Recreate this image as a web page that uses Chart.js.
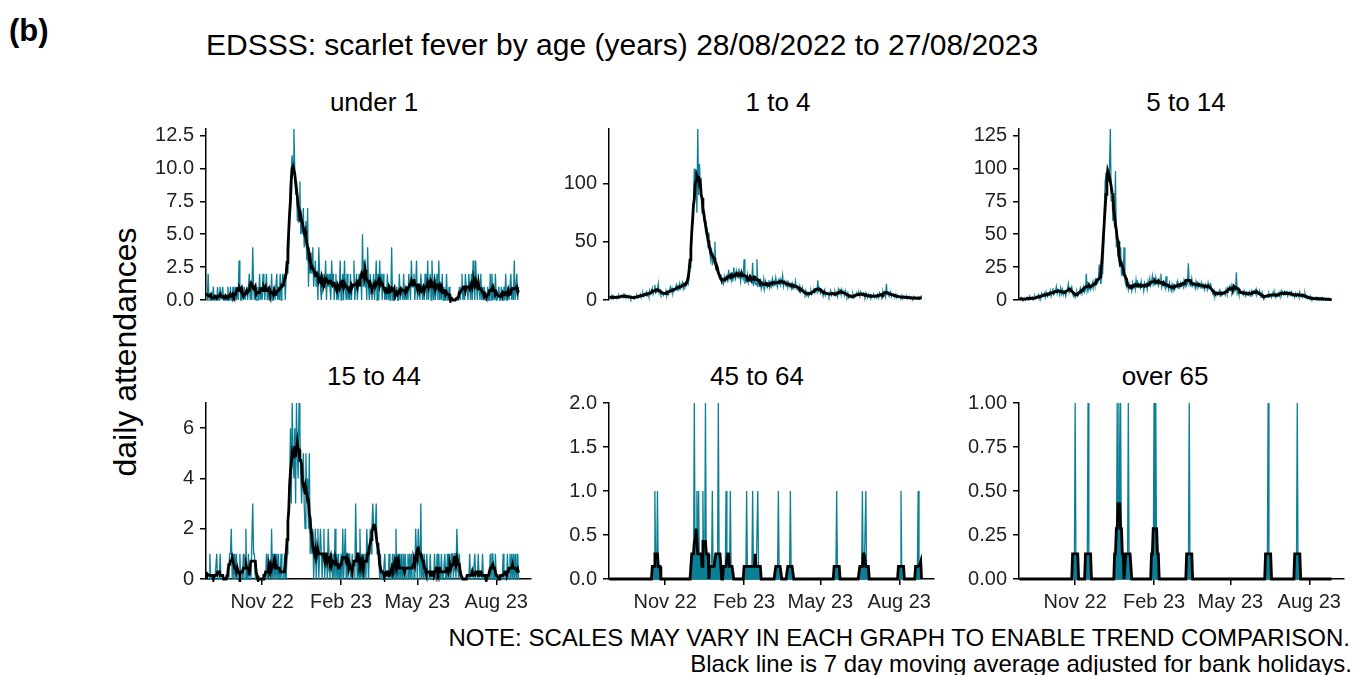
<!DOCTYPE html>
<html>
<head>
<meta charset="utf-8">
<script src="https://cdn.jsdelivr.net/npm/chart.js@4.4.1/dist/chart.umd.min.js"></script>
<style>
  html, body { margin: 0; padding: 0; background: #fff; }
  body { width: 1355px; height: 675px; position: relative; overflow: hidden;
         font-family: 'Liberation Sans', Arial, sans-serif; color: #000; }
  .t { position: absolute; white-space: nowrap; line-height: 1; }
  .c { transform: translate(-50%, -50%); }
  .l { transform: translate(0, -50%); }
  .r { transform: translate(0, -50%); text-align: right; }
</style>
</head>
<body>
<div class="t l" style="left:9px;top:30px;font-size:31px;font-weight:bold;">(b)</div>
<div class="t l" style="left:206px;top:45px;font-size:30px;">EDSSS: scarlet fever by age (years) 28/08/2022 to 27/08/2023</div>
<div class="t c" style="left:125px;top:352px;font-size:32px;transform:translate(-50%,-50%) rotate(-90deg);">daily attendances</div>
<div class="t r" style="right:5px;top:638px;font-size:24px;">NOTE: SCALES MAY VARY IN EACH GRAPH TO ENABLE TREND COMPARISON.</div>
<div class="t r" style="right:3px;top:664px;font-size:24px;">Black line is 7 day moving average adjusted for bank holidays.</div>

<script>
// ---- daily attendances, one value per day from the start date ----
const startDate = '2022-08-28';
const nDays = 365;

const under1 = [
  0,0,2,0,0,0,0, 0,1,0,0,0,0,1, 0,0,1,0,0,1,0, 0,0,0,0,1,0,0,
  1,0,0,1,0,0,1, 0,1,0,3,1,0,0, 1,0,1,0,0,1,0, 1,2,0,1,0,4,1,
  0,1,0,0,1,0,2, 0,1,0,2,1,0,1, 2,0,1,0,1,0,2, 0,0,1,0,0,2,0,
  1,0,2,0,1,2,
  1,2,0,2,3,2,4,7,9,10, 11,10,13,10,8,9,6,7,6,9, 5,6,5,7,4,5,6,3,7,1,
  4,2,3,2,4,1,2,3,1,2, 0,4,2,1,0,2,1,
  2,1,3,0,2,1,2, 1,0,3,1,2,0,1, 2,0,1,0,1,3,0, 1,2,0,3,1,0,2,
  0,1,0,2,0,1,1, 3,0,1,2,0,1,2, 1,2,0,5,1,3,1, 2,0,4,1,0,2,1,
  0,1,2,0,1,3,0, 2,0,3,1,2,0,2, 1,0,1,0,2,0,1, 0,0,4,0,0,1,0,
  0,1,0,0,2,0,1, 1,0,2,0,1,0,1, 0,2,1,0,3,1,1, 2,0,1,3,0,1,1,
  0,2,1,0,1,0,2, 1,0,3,0,1,2,0, 3,1,0,2,0,1,2, 0,3,0,1,0,2,0,
  1,0,0,2,0,0,1, 0,0,0,0,0,0,0, 0,0,0,0,1,0,1, 2,0,1,0,2,1,1,
  0,2,1,0,2,0,3, 1,0,3,1,0,2,1, 0,2,0,1,0,1,0, 0,0,1,0,0,2,0,
  2,0,1,0,2,0,0, 0,1,0,0,1,0,0, 1,0,2,0,0,1,0, 0,2,0,1,0,3,0,
  0,2,0,1
];

const age1to4 = [
  3,2,1,4,2,3,2, 2,3,1,2,4,2,3, 4,3,2,5,3,4,2, 3,2,4,3,1,3,2,
  2,1,3,2,4,2,3, 3,5,2,4,6,3,4, 5,7,4,6,3,8,5, 6,10,5,8,13,6,7,
  9,14,6,8,5,7,6, 4,6,5,8,4,7,5, 8,11,7,10,6,9,8, 10,13,9,12,8,14,10,
  12,15,10,14,
  12,15,13,16,14,20,28,38,55,70, 85,113,95,112,75,147,90,117,100,95,
  75,85,70,72,60,65,55,45,58,40, 35,45,30,38,32,50,28,30,25,22,
  20,18,22,15,17,14,20,16,
  18,22,15,26,19,21,17, 24,16,28,20,18,25,21, 19,27,22,16,24,20,18,
  35,14,20,17,22,15,19, 16,21,14,32,12,18,15, 13,35,11,17,14,16,10,
  15,12,18,10,16,13,11, 14,17,11,15,12,18,13, 16,12,19,14,11,17,15,
  18,13,15,21,12,16,14, 12,17,11,15,13,14,10, 14,9,13,11,16,10,12,
  10,8,12,7,9,11,6, 7,5,8,4,6,3,5, 6,8,5,7,9,6,8, 9,7,17,8,10,6,9,
  8,5,7,9,4,6,5, 6,3,5,8,4,6,5, 5,7,4,6,3,9,6, 8,5,9,6,7,4,8,
  5,3,6,2,4,3,2, 3,5,2,4,3,6,4, 4,6,3,7,5,4,6, 5,3,6,4,2,5,3,
  3,2,4,3,5,2,3, 4,3,5,2,6,4,3, 5,7,4,6,3,14,5, 6,4,5,7,3,5,4,
  4,3,5,2,4,3,2, 3,2,4,1,3,2,3, 2,3,1,2,3,1,2, 2,1,3,1,2,1,2,
  1,2,1,1,4
];

const age5to14 = [
  1,0,2,1,0,1,1, 0,1,2,0,1,3,1, 1,2,0,1,3,1,2, 2,4,1,3,2,5,3,
  3,5,2,6,4,3,5, 4,7,3,6,9,4,5, 6,10,5,8,7,4,9, 5,8,4,7,6,3,7,
  7,12,6,9,8,10,5, 3,5,2,4,6,3,4, 6,9,5,8,7,10,6, 8,20,7,10,9,12,8,
  10,13,9,14,
  11,15,12,13,14,27,17,12,20,20, 35,70,90,97,85,95,90,100,130,75,
  80,60,70,55,98,40,45,35,30,25, 40,20,22,18,40,15,12,10,14,8,
  12,9,11,7,13,10,
  12,8,15,9,13,10,11, 9,14,10,12,7,13,11, 12,8,14,10,16,11,13,
  18,12,15,11,17,13,14, 11,15,12,20,10,13,11, 12,9,18,10,11,8,13,
  10,7,12,9,11,8,10, 11,14,9,12,10,13,11, 13,10,15,12,14,11,13,
  28,12,14,10,16,11,13, 12,9,14,11,13,10,12, 10,13,9,12,11,8,12,
  11,8,13,9,10,12,9, 6,4,7,3,6,5,4, 5,7,3,6,4,5,6, 6,4,8,5,9,7,10,
  8,11,7,9,6,10,8, 21,5,7,4,8,6,5, 6,4,7,5,3,6,5, 4,6,3,5,7,4,6,
  7,5,8,4,6,5,7, 3,5,2,4,1,3,2, 3,4,2,5,3,4,2, 4,6,3,5,2,4,3,
  5,3,6,4,7,5,4, 6,4,5,7,3,5,6, 4,6,3,5,4,2,5, 3,5,4,2,6,3,4,
  2,4,3,5,2,3,1, 2,1,3,1,2,0,1, 1,2,0,1,2,1,0, 1,0,2,1,0,1,1,
  0,1,0,1,0,0,1
];

const age15to44 = [
  0,0,0,0,1,0,0, 0,0,0,0,0,1,0, 0,0,1,0,0,0,0, 0,0,0,0,0,0,1,
  1,2,0,1,0,1,0, 1,0,0,0,1,0,0, 0,1,0,0,2,0,0, 1,0,0,0,0,3,1,
  1,0,0,0,0,0,0, 0,0,0,0,0,0,0, 1,0,1,0,0,0,2, 0,1,0,1,0,1,0,
  1,0,0,1,0,0,0, 1,0,0,1,2,3,4, 6,3,7,5,4,6,3, 7,5,4,7,6,4,3,
  4,5,3,2,5,3,4, 2,5,1,2,1,2,0, 1,2,0,1,2,0,1, 2,1,0,1,2,0,1,
  1,0,2,1,0,1,1, 0,1,0,2,0,1,0, 1,0,0,1,0,2,0, 1,2,0,1,0,1,1,
  0,0,1,0,0,0,3, 1,0,1,0,2,0,1, 0,1,0,1,0,2,1, 0,1,2,1,2,3,2,
  2,2,3,1,1,1,0, 1,0,0,0,0,1,0, 0,0,0,1,0,0,0, 1,0,1,0,2,0,1,
  0,1,0,1,0,0,1, 0,1,0,0,1,0,1, 0,1,0,0,1,0,2, 1,0,2,1,0,3,0,
  1,0,1,0,0,1,0, 0,0,1,0,0,0,0, 1,0,0,1,0,1,0, 0,1,0,0,0,1,0,
  0,1,0,1,0,0,1, 1,0,1,1,0,2,1, 0,1,0,0,0,0,0, 0,0,0,0,0,0,1,
  0,0,0,0,0,1,0, 0,0,1,0,0,0,0, 1,0,0,0,0,0,0, 0,0,1,0,1,1,0,
  0,1,0,0,0,0,0, 0,0,0,1,0,0,0, 0,1,0,0,1,0,1, 0,1,0,1,0,0,1,
  0
];

// sparse groups: only the days with an attendance are listed
const age45to64Dates = [
  '2022-10-20','2022-10-23','2022-12-05','2022-12-08','2022-12-10','2022-12-15',
  '2022-12-18','2022-12-26','2023-01-02','2023-01-11','2023-01-16','2023-02-04',
  '2023-02-11','2023-02-17','2023-03-13','2023-03-27','2023-05-20','2023-06-19',
  '2023-06-23','2023-08-03','2023-08-23'
];
const age45to64Counts = [1,1,2,1,1,1, 2,1,2,1,1,1, 1,1,1,1,1,1, 1,1,1];

const over65Dates = [
  '2022-11-01','2022-11-16','2022-12-20','2022-12-22','2022-12-24','2023-01-02',
  '2023-02-01','2023-02-03','2023-03-14','2023-06-14','2023-07-18'
];
const over65Counts = [1,1,1,1,1,1, 1,1,1,1,1];

// axis labels
const panelTitles = ['under 1', '1 to 4', '5 to 14', '15 to 44', '45 to 64', 'over 65'];
const xTickDates  = ['2022-11-01', '2023-02-01', '2023-05-01', '2023-08-01'];
const xTickLabels = ['Nov 22', 'Feb 23', 'May 23', 'Aug 23'];
const yTickValues = [
  [0, 2.5, 5, 7.5, 10, 12.5], [0, 50, 100], [0, 25, 50, 75, 100, 125],
  [0, 2, 4, 6], [0, 0.5, 1, 1.5, 2], [0, 0.25, 0.5, 0.75, 1]
];
const yTickLabels = [
  ['0.0', '2.5', '5.0', '7.5', '10.0', '12.5'], ['0', '50', '100'],
  ['0', '25', '50', '75', '100', '125'], ['0', '2', '4', '6'],
  ['0.0', '0.5', '1.0', '1.5', '2.0'], ['0.00', '0.25', '0.50', '0.75', '1.00']
];
const yMaxValues = [13, 147, 130, 7, 2, 1];

// ---- helpers ----
const DAY = 86400000;
function dayIndex(iso) {
  return Math.round((Date.parse(iso + 'T00:00:00Z') - Date.parse(startDate + 'T00:00:00Z')) / DAY);
}
function fromEvents(dates, counts) {
  const a = new Array(nDays).fill(0);
  dates.forEach((d, i) => { a[dayIndex(d)] += counts[i]; });
  return a;
}
// centred 7-day moving average
function movingAverage(v) {
  return v.map((_, i) => {
    let s = 0, n = 0;
    for (let k = i - 3; k <= i + 3; k++) {
      if (k >= 0 && k < v.length) { s += v[k]; n++; }
    }
    return s / n;
  });
}

const series = [
  under1, age1to4, age5to14, age15to44,
  fromEvents(age45to64Dates, age45to64Counts),
  fromEvents(over65Dates, over65Counts)
];
const xTickDays = xTickDates.map(dayIndex);

// ---- panel grid ----
const TEAL = '#0a7f96';
const FONT = "'Liberation Sans', Arial, sans-serif";
const TICK_COLOR = '#222';
const COL_X = [206, 609, 1019];
const ROW_Y = [[125, 304], [399, 579]];
const STRIP_X = [374, 778, 1186, 374, 757, 1165];
const PLOT_W = 325, Y_W = 70, PAD_T = 14, PAD_R = 10, X_H = 40;

series.forEach((daily, i) => {
  const col = i % 3, row = Math.floor(i / 3);
  const axisX = COL_X[col];
  const [top, bottom] = ROW_Y[row];
  const w = Y_W + PLOT_W + PAD_R;
  const h = PAD_T + (bottom - top) + (row ? X_H : PAD_T);

  const title = document.createElement('div');
  title.className = 't c';
  title.style.cssText = `left:${STRIP_X[i]}px;top:${top - 23}px;font-size:26px;`;
  title.textContent = panelTitles[i];
  document.body.appendChild(title);

  const canvas = document.createElement('canvas');
  canvas.width = w; canvas.height = h;
  canvas.style.cssText = `position:absolute;left:${axisX - Y_W}px;top:${top - PAD_T}px;width:${w}px;height:${h}px;`;
  document.body.appendChild(canvas);

  const sparse = i >= 4;
  const raw = daily.map((v, d) => ({ x: d, y: v }));
  const avg = movingAverage(daily).map((v, d) => ({ x: d, y: v }));

  new Chart(canvas.getContext('2d'), {
    type: 'line',
    data: {
      datasets: [
        { data: raw, borderColor: TEAL, borderWidth: 1.3, pointRadius: 0,
          tension: 0, fill: false, order: 2, clip: 3 },
        { data: avg, borderColor: '#000', borderWidth: 2.8, pointRadius: 0,
          tension: 0, fill: sparse ? 'origin' : false, backgroundColor: TEAL,
          order: 1, clip: 3 }
      ]
    },
    options: {
      responsive: false, maintainAspectRatio: false, animation: false,
      events: [],
      layout: { padding: { top: PAD_T, right: PAD_R, left: 0, bottom: row ? 0 : PAD_T } },
      plugins: { legend: { display: false }, tooltip: { enabled: false } },
      scales: {
        x: {
          type: 'linear', min: -0.5, max: 378.5, display: row === 1,
          afterBuildTicks: s => { s.ticks = xTickDays.map(v => ({ value: v })); },
          afterFit: s => { s.height = row ? X_H : 0; },
          ticks: {
            autoSkip: false, maxRotation: 0, padding: 5, color: TICK_COLOR,
            font: { family: FONT, size: 20 },
            callback: v => xTickLabels[xTickDays.indexOf(v)]
          },
          grid: { drawOnChartArea: false, drawTicks: true, tickLength: 6,
                  color: '#000', lineWidth: 1.5 },
          border: { display: true, color: '#000', width: 1.5 }
        },
        y: {
          type: 'linear', min: 0, max: yMaxValues[i],
          afterBuildTicks: s => { s.ticks = yTickValues[i].map(v => ({ value: v })); },
          afterFit: s => { s.width = Y_W; },
          ticks: {
            autoSkip: false, padding: 6, color: TICK_COLOR,
            font: { family: FONT, size: 20 },
            callback: v => yTickLabels[i][yTickValues[i].indexOf(v)]
          },
          grid: { drawOnChartArea: false, drawTicks: true, tickLength: 6,
                  color: '#000', lineWidth: 1.5 },
          border: { display: true, color: '#000', width: 1.5 }
        }
      }
    }
  });
});
</script>
</body>
</html>
